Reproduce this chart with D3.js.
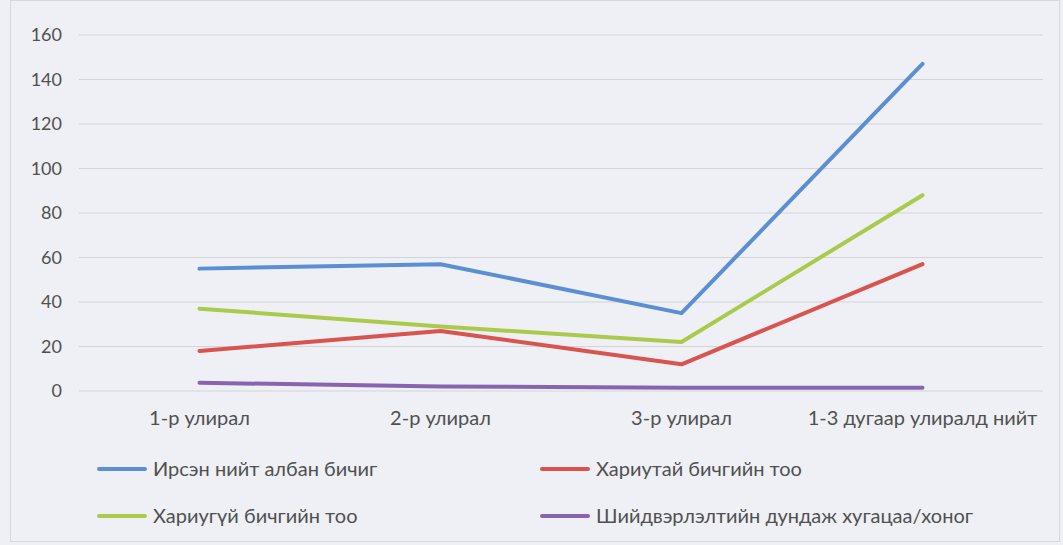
<!DOCTYPE html>
<html>
<head>
<meta charset="utf-8">
<script src="https://cdn.jsdelivr.net/npm/d3@7"></script>
<style>
  body { margin: 0; background: #eef0f5; }
  svg { display: block; }
  .tick text { font-family: Lato, "Open Sans", sans-serif; fill: #505050; }
</style>
</head>
<body>
<div class="chart"></div>
<script>
const width = 1063
const height = 545

const categories = ['1-р улирал', '2-р улирал', '3-р улирал', '1-3 дугаар улиралд нийт']
const seriesNames = [
  'Ирсэн нийт албан бичиг',
  'Хариутай бичгийн тоо',
  'Хариугүй бичгийн тоо',
  'Шийдвэрлэлтийн дундаж хугацаа/хоног'
]
const received = [55, 57, 35, 147]
const answered = [18, 27, 12, 57]
const unanswered = [37, 29, 22, 88]
const avgDays = [3.7, 2, 1.5, 1.5]
const yTicks = [0, 20, 40, 60, 80, 100, 120, 140, 160]

const colors = ['#5b8ed2', '#d9534f', '#abc94a', '#8864b0']
const series = [received, answered, unanswered, avgDays]

const margin = { top: 35, right: 20, bottom: 154, left: 79 }

const svg = d3.select('.chart')
  .append('svg')
  .attr('width', width)
  .attr('height', height)

svg.append('rect')
  .attr('x', 10.5)
  .attr('y', 0.5)
  .attr('width', width - 14)
  .attr('height', height - 4)
  .attr('fill', '#eef0f5')
  .attr('stroke', '#d6d8dc')

const xScale = d3.scaleBand()
  .domain(categories)
  .range([margin.left, width - margin.right])

const yScale = d3.scaleLinear()
  .domain([0, 160])
  .range([height - margin.bottom, margin.top])

// gridlines
svg.append('g')
  .selectAll('line')
  .data(yTicks)
  .enter()
  .append('line')
  .attr('x1', margin.left)
  .attr('x2', width - margin.right)
  .attr('y1', d => yScale(d))
  .attr('y2', d => yScale(d))
  .attr('stroke', '#d4d4d4')
  .attr('stroke-width', 1)

const yAxis = d3.axisLeft(yScale).tickValues(yTicks).tickSize(0).tickPadding(17)
svg.append('g')
  .attr('transform', `translate(${margin.left}, 0)`)
  .call(yAxis)
  .call(g => g.select('.domain').remove())
  .selectAll('text')
  .style('font-size', '18px')

const xAxis = d3.axisBottom(xScale).tickSize(0).tickPadding(20)
svg.append('g')
  .attr('transform', `translate(0, ${height - margin.bottom})`)
  .call(xAxis)
  .call(g => g.select('.domain').remove())
  .selectAll('text')
  .style('font-size', '20px')

const line = d3.line()
  .x((_, i) => xScale(categories[i]) + xScale.bandwidth() / 2)
  .y(d => yScale(d))

series.forEach((s, k) => {
  svg.append('path')
    .datum(s)
    .attr('d', line)
    .attr('fill', 'none')
    .attr('stroke', colors[k])
    .attr('stroke-width', 4)
    .attr('stroke-linejoin', 'round')
    .attr('stroke-linecap', 'round')
})

// legend
const legendPos = [[97, 469], [540, 469], [97, 516], [540, 516]]
const legend = svg.append('g')
seriesNames.forEach((name, k) => {
  const [lx, ly] = legendPos[k]
  legend.append('line')
    .attr('x1', lx + 2)
    .attr('x2', lx + 48)
    .attr('y1', ly)
    .attr('y2', ly)
    .attr('stroke', colors[k])
    .attr('stroke-width', 4)
    .attr('stroke-linecap', 'round')
  legend.append('text')
    .attr('x', lx + 56)
    .attr('y', ly)
    .attr('dy', '0.35em')
    .attr('fill', '#505050')
    .style('font-family', 'Lato, "Open Sans", sans-serif')
    .style('font-size', '20px')
    .text(name)
})
</script>
</body>
</html>
